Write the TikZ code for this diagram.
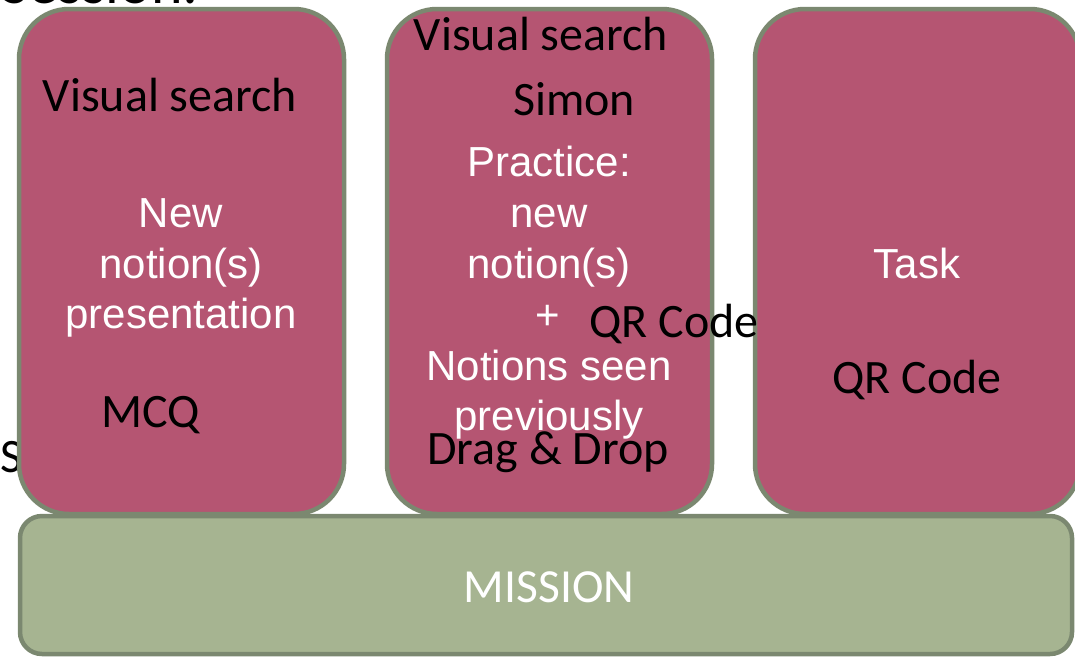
\documentclass[tikz,border=0pt]{standalone}
\usepackage{fontspec}
\setmainfont{Carlito}
\newfontfamily\arialf{Liberation Sans}
\definecolor{pinkfill}{HTML}{B55572}
\definecolor{boxedge}{HTML}{7B8870}
\definecolor{greenfill}{HTML}{A6B491}
\tikzset{
  pinkbox/.style={draw=boxedge, fill=pinkfill, line width=4.5pt, rounded corners=50pt,
    minimum width=325pt, minimum height=505pt, inner sep=0pt},
  missionbox/.style={draw=boxedge, fill=greenfill, line width=4.5pt, rounded corners=22pt,
    minimum width=1052pt, minimum height=138pt, inner sep=0pt},
  blk/.style={anchor=base, inner sep=0pt, text=black, font=\fontsize{48}{56}\selectfont},
  wht/.style={anchor=base, inner sep=0pt, text=white, font=\arialf\fontsize{42}{50}\selectfont},
  mis/.style={anchor=base, inner sep=0pt, text=white, font=\fontsize{47.5}{56}\selectfont},
}
\begin{document}
\begin{tikzpicture}[x=1pt, y=-1pt]
\clip (0,0) rectangle (1075,656);
\fill[white] (0,0) rectangle (1075,656);
% partially hidden texts behind
\node[blk, anchor=base east, font=\fontsize{60}{70}\selectfont] (title) at (199,3) {Session:};
\node[blk, anchor=base west] (sleft) at (0,472) {S};
% boxes
\node[pinkbox] (b1) at (181.5,261.5) {};
\node[pinkbox] (b2) at (549.5,261.5) {};
\node[pinkbox] (b3) at (917.5,261.5) {};
\node[missionbox] (m) at (546,585) {};
% box 1
\node[blk] (vs1) at (170,111) {Visual search};
\node[wht] (n1a) at (181,227) {New};
\node[wht] (n1b) at (181,278) {notion(s)};
\node[wht] (n1c) at (181,328) {presentation};
\node[blk] (mcq) at (151,427) {MCQ};
% box 2
\node[blk] (vs2) at (541,50) {Visual search};
\node[blk] (simon) at (574,115) {Simon};
\node[wht] (p2a) at (549,176) {Practice:};
\node[wht] (p2b) at (549,227) {new};
\node[wht] (p2c) at (549,278) {notion(s)};
\node[wht] (plus) at (548,329) {+};
\node[blk] (qr2) at (674,337) {QR Code};
\node[wht] (ns1) at (549,380) {Notions seen};
\node[wht] (ns2) at (549,430) {previously};
\node[blk] (dd) at (548,464) {Drag \& Drop};
% box 3
\node[wht] (task) at (917,278) {Task};
\node[blk] (qr3) at (917,393) {QR Code};
% mission
\node[mis] (mtext) at (549,602) {MISSION};
\end{tikzpicture}
\end{document}
